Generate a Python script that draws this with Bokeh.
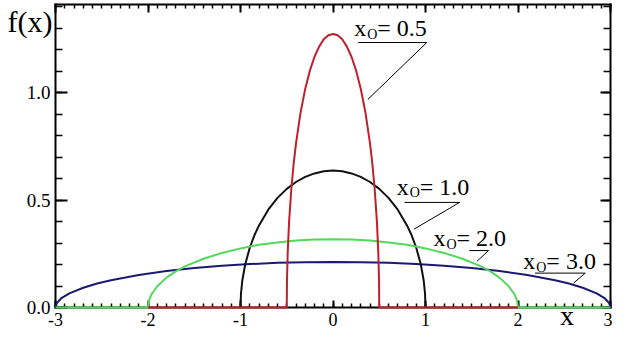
from bokeh.plotting import figure
from bokeh.models import (LinearAxis, SingleIntervalTicker, CustomJSTickFormatter,
                          PrintfTickFormatter, Range1d, Label)
from bokeh.core.properties import value
from bokeh.embed import file_html
from bokeh.resources import INLINE

# ---- data ----
x_red = [-2.0, -0.5, -0.4975, -0.49, -0.475, -0.45, -0.425, -0.4, -0.35, -0.3, -0.25, -0.2, -0.15, -0.1, -0.05, 0.0,
         0.05, 0.1, 0.15, 0.2, 0.25, 0.3, 0.35, 0.4, 0.425, 0.45, 0.475, 0.49, 0.4975, 0.5, 2.0]
y_red = [0.0, 0.0, 0.127, 0.253, 0.397, 0.555, 0.671, 0.764, 0.909, 1.018, 1.102, 1.167, 1.214, 1.248, 1.267, 1.273,
         1.267, 1.248, 1.214, 1.167, 1.102, 1.018, 0.909, 0.764, 0.671, 0.555, 0.397, 0.253, 0.127, 0.0, 0.0]

x_black = [-1.0, -0.995, -0.98, -0.95, -0.9, -0.85, -0.8, -0.7, -0.6, -0.5, -0.4, -0.3, -0.2, -0.1, 0.0,
           0.1, 0.2, 0.3, 0.4, 0.5, 0.6, 0.7, 0.8, 0.85, 0.9, 0.95, 0.98, 0.995, 1.0]
y_black = [0.0, 0.064, 0.127, 0.199, 0.278, 0.336, 0.382, 0.455, 0.510, 0.552, 0.584, 0.608, 0.624, 0.634, 0.637,
           0.634, 0.624, 0.608, 0.584, 0.552, 0.510, 0.455, 0.382, 0.336, 0.278, 0.199, 0.127, 0.064, 0.0]

x_green = [-3.0, -2.0, -1.99, -1.96, -1.9, -1.8, -1.7, -1.6, -1.4, -1.2, -1.0, -0.8, -0.6, -0.4, -0.2, 0.0,
           0.2, 0.4, 0.6, 0.8, 1.0, 1.2, 1.4, 1.6, 1.7, 1.8, 1.9, 1.96, 1.99, 2.0, 3.0]
y_green = [0.0, 0.0, 0.032, 0.063, 0.099, 0.139, 0.168, 0.191, 0.227, 0.254, 0.275, 0.292, 0.303, 0.312, 0.316, 0.318,
           0.316, 0.312, 0.303, 0.292, 0.275, 0.254, 0.227, 0.191, 0.168, 0.139, 0.099, 0.063, 0.032, 0.0, 0.0]

x_blue = [-3.0, -2.985, -2.94, -2.85, -2.7, -2.55, -2.4, -2.1, -1.8, -1.5, -1.2, -0.9, -0.6, -0.3, 0.0,
          0.3, 0.6, 0.9, 1.2, 1.5, 1.8, 2.1, 2.4, 2.55, 2.7, 2.85, 2.94, 2.985, 3.0]
y_blue = [0.0, 0.021, 0.042, 0.066, 0.092, 0.112, 0.127, 0.151, 0.170, 0.184, 0.194, 0.202, 0.208, 0.211, 0.212,
          0.211, 0.208, 0.202, 0.194, 0.184, 0.170, 0.151, 0.127, 0.112, 0.092, 0.066, 0.042, 0.021, 0.0]

curve_labels = ["= 0.5", "= 1.0", "= 2.0", "= 3.0"]

# ---- layout of the annotations (data coordinates) ----
ann_x = [0.23, 0.69, 1.087, 2.058]
ann_y = [1.299, 0.562, 0.322, 0.215]
ul_x0 = [0.272, 0.773, 1.473, 2.184]
ul_x1 = [1.014, 1.369, 1.682, 2.727]
ul_y = [1.233, 0.489, 0.265, 0.160]
ld_x = [0.376, 0.878, 1.557, 2.602]
ld_y = [0.968, 0.365, 0.215, 0.114]

SERIF = "Liberation Serif"
X0, X1 = -3.0, 3.0
Y0, Y1 = 0.0, 1.41

# frame spans the whole canvas; the visible box is drawn by the four axes
p = figure(width=612, height=331, output_backend="svg", toolbar_location=None,
           x_range=Range1d(-3.5946, 3.0216), y_range=Range1d(-0.1117, 1.4286),
           min_border=0, min_border_left=0, min_border_right=0, min_border_top=0, min_border_bottom=0,
           background_fill_color="white", border_fill_color="white",
           outline_line_color=None)
p.grid.visible = False

xt = SingleIntervalTicker(interval=1, num_minor_ticks=10)
yt = SingleIntervalTicker(interval=0.5, num_minor_ticks=5)

def style(ax, major_in, minor_in):
    ax.axis_line_color = "black"
    ax.axis_line_width = 2
    ax.axis_line_cap = "square"
    ax.major_tick_in = major_in
    ax.major_tick_out = 0
    ax.minor_tick_in = minor_in
    ax.minor_tick_out = 0
    ax.major_tick_line_width = 2
    ax.minor_tick_line_width = 1.5
    ax.major_tick_line_color = "black"
    ax.minor_tick_line_color = "black"
    ax.major_label_text_font = SERIF
    ax.major_label_text_color = "black"

bx = p.xaxis[0]
bx.ticker = xt
bx.formatter = PrintfTickFormatter(format="%d")
bx.fixed_location = Y0
bx.bounds = (X0, X1)
style(bx, 7, 4)
bx.major_label_text_font_size = "18px"
bx.major_label_standoff = 6

ly = p.yaxis[0]
ly.ticker = yt
ly.formatter = PrintfTickFormatter(format="%.1f")
ly.fixed_location = X0
ly.bounds = (Y0, Y1)
style(ly, 12, 7)
ly.major_label_text_font_size = "19px"
ly.major_label_standoff = 5

blank = "return ''"
tx = LinearAxis(ticker=xt, formatter=CustomJSTickFormatter(code=blank), major_label_standoff=0,
                fixed_location=Y1, bounds=(X0, X1))
style(tx, 8, 4)
p.add_layout(tx, "above")
ry = LinearAxis(ticker=yt, formatter=CustomJSTickFormatter(code=blank), major_label_standoff=0,
                fixed_location=X1, bounds=(Y0, Y1))
style(ry, 10, 7)
p.add_layout(ry, "right")

p.line(x_blue, y_blue, line_color="#1a1a72", line_width=2, level="overlay")
p.line(x_black, y_black, line_color="#111111", line_width=2, level="overlay")
p.line(x_green, y_green, line_color="#52d85a", line_width=2, level="overlay")
p.line(x_red, y_red, line_color="#c0202c", line_width=2, level="overlay")

p.segment(ul_x0, ul_y, ul_x1, ul_y, line_color="black", line_width=1)
p.segment(ul_x1, ul_y, ld_x, ld_y, line_color="black", line_width=1)

p.text(ann_x, ann_y, text=["x"] * 4, text_font=value(SERIF), text_font_size="24px",
       text_baseline="middle", text_align="left", text_color="black")
p.text(ann_x, ann_y, text=["O"] * 4, text_font=value(SERIF), text_font_size="14px",
       text_baseline="middle", text_align="left", text_color="black", x_offset=13, y_offset=6)
p.text(ann_x, ann_y, text=curve_labels, text_font=value(SERIF), text_font_size="24px",
       text_baseline="middle", text_align="left", text_color="black", x_offset=23)

p.add_layout(Label(x=-3.519, y=1.331, text="f(x)", text_font=SERIF, text_font_size="30px",
                   text_baseline="middle", text_color="black"))
p.add_layout(Label(x=2.455, y=-0.037, text="x", text_font=SERIF, text_font_size="28px",
                   text_baseline="middle", text_color="black"))

open("out.html", "w").write(file_html(p, INLINE))
